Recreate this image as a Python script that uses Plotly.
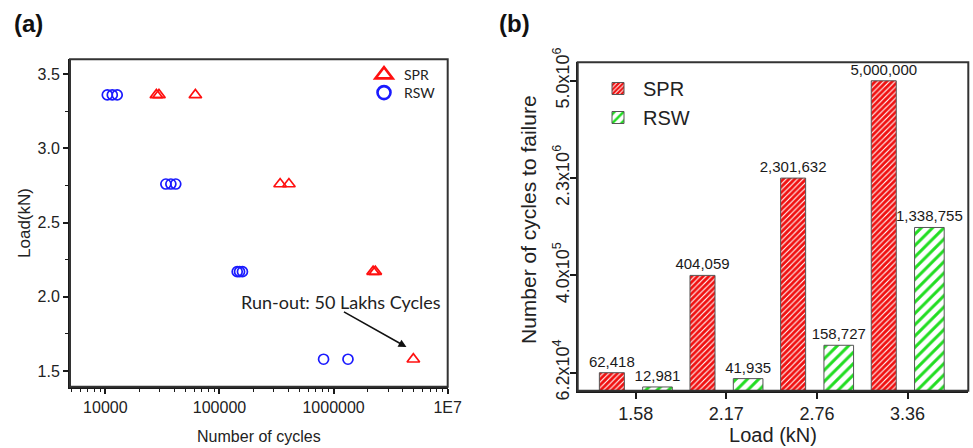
import numpy as np
import plotly.graph_objects as go

# ---------------- data: panel (a) ----------------
spr_cycles = [28000, 29500, 61500, 340000, 406000, 2220000, 2320000, 5000000]
spr_load = [3.36, 3.36, 3.36, 2.76, 2.76, 2.17, 2.17, 1.58]
rsw_cycles = [10400, 11500, 12700, 33900, 37500, 41400, 143000, 150000, 159000, 817000, 1337000]
rsw_load = [3.36, 3.36, 3.36, 2.76, 2.76, 2.76, 2.17, 2.17, 2.17, 1.58, 1.58]
x_tick_vals_a = [1e4, 1e5, 1e6, 1e7]
x_tick_text_a = ["10000", "100000", "1000000", "1E7"]
y_tick_vals_a = [1.5, 2.0, 2.5, 3.0, 3.5]

# ---------------- data: panel (b) ----------------
loads = ["1.58", "2.17", "2.76", "3.36"]
spr_bar = [62418, 404059, 2301632, 5000000]
rsw_bar = [12981, 41935, 158727, 1338755]
y_break_vals = [0, 62418, 404059, 2301632, 5000000]
y_tick_text_b = ["6.2x10<sup>4</sup>", "4.0x10<sup>5</sup>", "2.3x10<sup>6</sup>", "5.0x10<sup>6</sup>"]

# piecewise (broken) scale of panel (b)
y_break_pos = [0, 0.185, 1.185, 2.185, 3.185]
def yscale(v):
    return np.interp(v, y_break_vals, y_break_pos)

W, H = 973, 448
def px_x(p): return p / W
def px_y(p): return 1 - p / H

dom_a_x = [px_x(70), px_x(447.7)]
dom_a_y = [px_y(386.7), px_y(59.3)]
dom_b_x = [px_x(577.7), px_x(968.3)]
dom_b_y = [px_y(390.7), px_y(62.3)]

AX = "#1a1a1a"
ARIAL = "Liberation Sans, Arial, sans-serif"
CAL = "Lato, Open Sans, sans-serif"
RED = "#ff1010"
BLUE = "#1a1aff"

fig = go.Figure()

fig.add_trace(go.Scatter(
    x=spr_cycles, y=spr_load, mode="markers", name="SPR", showlegend=False,
    marker=dict(symbol="triangle-up-open", size=11, color=RED, line=dict(width=1.7)),
    xaxis="x", yaxis="y"))
fig.add_trace(go.Scatter(
    x=rsw_cycles, y=rsw_load, mode="markers", name="RSW", showlegend=False,
    marker=dict(symbol="circle-open", size=10, color=BLUE, line=dict(width=1.7)),
    xaxis="x", yaxis="y"))
# legend entries of panel (a) (larger symbols, as in the original legend)
fig.add_trace(go.Scatter(
    x=[None], y=[None], mode="markers", name="SPR",
    marker=dict(symbol="triangle-up-open", size=15, color=RED, line=dict(width=2.6)),
    xaxis="x", yaxis="y", legend="legend"))
fig.add_trace(go.Scatter(
    x=[None], y=[None], mode="markers", name="RSW",
    marker=dict(symbol="circle-open", size=13, color=BLUE, line=dict(width=2.6)),
    xaxis="x", yaxis="y", legend="legend3"))

fig.add_trace(go.Bar(
    x=list(range(len(loads))), y=yscale(spr_bar), name="SPR",
    text=[f"{v:,}" for v in spr_bar], textposition="outside", constraintext="none",
    textfont=dict(family=ARIAL, size=15, color="#1a1a1a"), cliponaxis=False,
    width=0.276, offset=-0.401,
    marker=dict(color="white", opacity=1, line=dict(color="#555555", width=1),
                pattern=dict(shape="/", fgcolor="#f01010", bgcolor="white", size=4,
                             solidity=0.72, fgopacity=1)),
    xaxis="x2", yaxis="y2", legend="legend2"))
fig.add_trace(go.Bar(
    x=list(range(len(loads))), y=yscale(rsw_bar), name="RSW",
    text=[f"{v:,}" for v in rsw_bar], textposition="outside", constraintext="none",
    textfont=dict(family=ARIAL, size=15, color="#1a1a1a"), cliponaxis=False,
    width=0.327, offset=0.077,
    marker=dict(color="white", opacity=1, line=dict(color="#555555", width=1),
                pattern=dict(shape="/", fgcolor="#22dd22", bgcolor="white", size=8,
                             solidity=0.38, fgopacity=1)),
    xaxis="x2", yaxis="y2", legend="legend2"))

xr_a = [np.log10(4900), 7.0]
yr_a = [1.395, 3.6]
xr_b = [-0.64, 3.67]
yr_b = [0, 3.375]

minor_log = [m * 10 ** e for e in range(3, 7) for m in range(2, 10)]
minor_log = [v for v in minor_log if v > 4900]

common_line = dict(showline=True, linecolor=AX, linewidth=2, showgrid=False, zeroline=False,
                   automargin=False)

fig.update_layout(
    width=W, height=H, margin=dict(l=0, r=0, t=0, b=0),
    paper_bgcolor="white", plot_bgcolor="white",
    barmode="overlay", showlegend=True,
    xaxis=dict(domain=dom_a_x, anchor="y", type="log", range=xr_a,
               tickvals=x_tick_vals_a, ticktext=x_tick_text_a, ticks="outside", ticklen=5,
               tickcolor=AX, tickwidth=1.5,
               minor=dict(tickvals=minor_log, ticks="outside", ticklen=3, tickcolor=AX, tickwidth=1),
               tickfont=dict(family=ARIAL, size=16, color="#222"),
               title=dict(text="Number of cycles", font=dict(family=ARIAL, size=16, color="#222"), standoff=16),
               **common_line),
    yaxis=dict(domain=dom_a_y, anchor="x", range=yr_a, tickvals=y_tick_vals_a,
               ticktext=[f"{v:.1f}" for v in y_tick_vals_a],
               ticks="outside", ticklen=5, tickcolor=AX, tickwidth=1.5,
               minor=dict(dtick=0.25, tick0=1.5, ticks="outside", ticklen=3, tickcolor=AX, tickwidth=1),
               tickfont=dict(family=ARIAL, size=16, color="#222"),
               title=dict(text="Load(kN)", font=dict(family=ARIAL, size=17, color="#222"), standoff=3),
               **common_line),
    xaxis3=dict(overlaying="x", anchor="y", side="top", type="log", range=xr_a,
                tickvals=x_tick_vals_a, showticklabels=False, ticks="inside", ticklen=5,
                tickcolor=AX, tickwidth=1.5,
                minor=dict(tickvals=minor_log, ticks="inside", ticklen=3, tickcolor=AX, tickwidth=1),
                **common_line),
    yaxis3=dict(overlaying="y", anchor="x", side="right", range=yr_a, tickvals=y_tick_vals_a,
                showticklabels=False, ticks="inside", ticklen=5, tickcolor=AX, tickwidth=1.5,
                minor=dict(dtick=0.25, tick0=1.5, ticks="inside", ticklen=3, tickcolor=AX, tickwidth=1),
                **common_line),
    xaxis2=dict(domain=dom_b_x, anchor="y2", range=xr_b, tickvals=list(range(len(loads))),
                ticktext=loads, ticks="outside", ticklen=6, tickcolor=AX, tickwidth=1.5,
                tickfont=dict(family=ARIAL, size=18, color="#222"),
                title=dict(text="Load (kN)", font=dict(family=ARIAL, size=20, color="#222"), standoff=3),
                **common_line),
    yaxis2=dict(domain=dom_b_y, anchor="x2", range=yr_b, tickvals=list(yscale(y_break_vals[1:])),
                ticktext=y_tick_text_b, tickangle=-90, ticks="outside", ticklen=6, tickcolor=AX,
                tickwidth=1.5, tickfont=dict(family=ARIAL, size=18, color="#222"),
                ticklabelstandoff=-6,
                **common_line),
    xaxis4=dict(overlaying="x2", anchor="y2", side="top", range=xr_b, tickvals=list(range(len(loads))),
                showticklabels=False, ticks="inside", ticklen=6, tickcolor=AX, tickwidth=1.5,
                **common_line),
    yaxis4=dict(overlaying="y2", anchor="x2", side="right", range=yr_b,
                tickvals=list(yscale(y_break_vals[1:])), showticklabels=False, ticks="inside",
                ticklen=6, tickcolor=AX, tickwidth=1.5, **common_line),
    legend=dict(x=px_x(364), y=px_y(75), xanchor="left", yanchor="middle", bgcolor="rgba(0,0,0,0)",
                font=dict(family=CAL, size=14, color="#222"), itemwidth=30),
    legend3=dict(x=px_x(364), y=px_y(93), xanchor="left", yanchor="middle", bgcolor="rgba(0,0,0,0)",
                 font=dict(family=CAL, size=14, color="#222"), itemwidth=30),
    legend2=dict(x=px_x(593), y=px_y(69), xanchor="left", yanchor="top", bgcolor="rgba(0,0,0,0)",
                 font=dict(family=ARIAL, size=20, color="#222"), itemwidth=40),
)

# frames (paper coordinates of the two plot areas)
for dx, dy in ((dom_a_x, dom_a_y), (dom_b_x, dom_b_y)):
    fig.add_shape(type="rect", xref="paper", yref="paper", x0=dx[0], x1=dx[1], y0=dy[0], y1=dy[1],
                  line=dict(color="#333333", width=2), fillcolor="rgba(0,0,0,0)", layer="above")

# y title of panel (b)
fig.add_annotation(x=px_x(528), y=px_y(220), xref="paper", yref="paper", textangle=-90,
                   text="Number of cycles to failure", showarrow=False,
                   font=dict(family=ARIAL, size=21, color="#222"))

# panel letters
fig.add_annotation(x=px_x(12), y=px_y(8), xref="paper", yref="paper", xanchor="left", yanchor="top",
                   text="<b>(a)</b>", showarrow=False, font=dict(family=ARIAL, size=24, color="#111"))
fig.add_annotation(x=px_x(497), y=px_y(8), xref="paper", yref="paper", xanchor="left", yanchor="top",
                   text="<b>(b)</b>", showarrow=False, font=dict(family=ARIAL, size=24, color="#111"))

# run-out annotation
fig.add_annotation(x=np.log10(4.35e6), y=1.662, xref="x", yref="y", ax=-64, ay=-36,
                   text="", showarrow=True, arrowhead=2, arrowsize=1, arrowwidth=1.6, arrowcolor="#111")
fig.add_annotation(x=6.955, y=1.967, xref="x", yref="y", xanchor="right", yanchor="middle",
                   text="Run-out: 50 Lakhs Cycles", showarrow=False,
                   font=dict(family=CAL, size=18, color="#222"))

fig.write_html("out.html")
